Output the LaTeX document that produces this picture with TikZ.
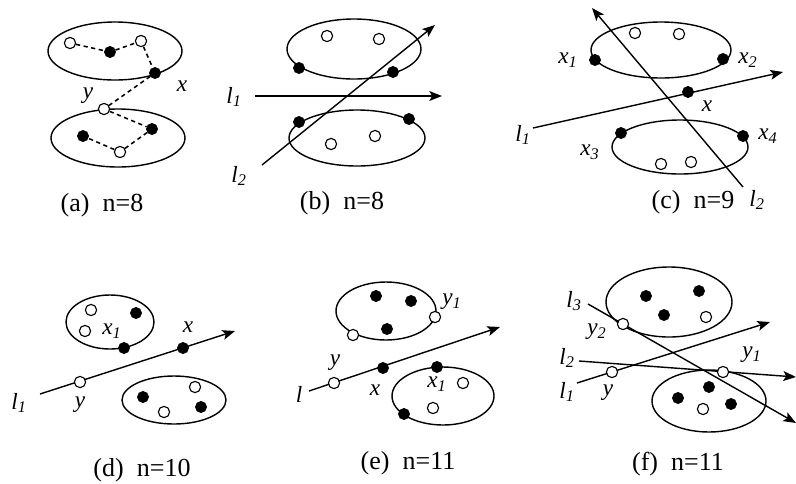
\documentclass[tikz,border=0pt]{standalone}
\usepackage{fontspec}
\setmainfont{Liberation Serif}
\usetikzlibrary{arrows.meta}
\newcommand{\lb}[2]{\textit{#1\textsubscript{#2}}}
\tikzset{
  blk/.style={circle,fill=black,draw=black,inner sep=0pt,minimum size=8pt},
  wht/.style={circle,fill=white,draw=black,line width=0.8pt,inner sep=0pt,minimum size=8pt},
  lbl/.style={font=\fontsize{16.5}{18}\selectfont\itshape,inner sep=0pt},
  captxt/.style={font=\fontsize{18.5}{20}\selectfont,inner sep=0pt},
  arr/.style={line width=1pt,-{Stealth[length=9pt,width=7pt,inset=2pt]}},
  ln/.style={line width=1pt},
  dsh/.style={line width=1.1pt,dash pattern=on 3pt off 2.5pt}
}
\begin{document}
\begin{tikzpicture}[x=0.025cm,y=-0.025cm]
\useasboundingbox (0,0) rectangle (796,483);
% (a)
\draw[ln] (115,51) ellipse (67 and 29);
\draw[ln] (118,138) ellipse (67 and 29);
\node[wht] (a1) at (70,43) {};
\node[blk] (a2) at (110,52) {};
\node[wht] (a3) at (141,41) {};
\node[blk] (ax) at (155,73) {};
\node[wht] (ay) at (104,109) {};
\node[blk] (a4) at (152,129) {};
\node[wht] (a5) at (120,152) {};
\node[blk] (a6) at (83,136) {};
\draw[dsh] (a1) -- (a2) -- (a3) -- (ax) -- (ay) -- (a4) -- (a5) -- (a6);
\node[lbl] (axl) at (182,86) {x};
\node[lbl] (ayl) at (88,96) {y};
\node[captxt] (acap) at (102,205) {(a)~~n=8};
% (b)
\draw[ln] (354,49) ellipse (67 and 30);
\draw[ln] (357,138) ellipse (68 and 28);
\coordinate (bl1s) at (255,96);
\coordinate (bl1e) at (442,96);
\coordinate (bl2s) at (262,165);
\coordinate (bl2e) at (435,25);
\draw[arr] (bl1s) -- (bl1e);
\draw[arr] (bl2s) -- (bl2e);
\node[wht] (b1) at (327,36) {};
\node[wht] (b2) at (379,39) {};
\node[blk] (b3) at (299,68) {};
\node[blk] (b4) at (393,72) {};
\node[blk] (b5) at (299,122) {};
\node[blk] (b6) at (409,119) {};
\node[wht] (b7) at (331,144) {};
\node[wht] (b8) at (375,136) {};
\node[lbl] (bl1) at (234,97) {\lb{l}{1}};
\node[lbl] (bl2) at (239,176) {\lb{l}{2}};
\node[captxt] (bcap) at (342,203) {(b)~~n=8};
% (c)
\draw[ln] (661,50) ellipse (70 and 28);
\draw[ln] (680,147) ellipse (68 and 27);
\coordinate (cl1s) at (533,128);
\coordinate (cl1e) at (783,72);
\coordinate (cl2s) at (743,187);
\coordinate (cl2e) at (592,8);
\draw[arr] (cl1s) -- (cl1e);
\draw[arr] (cl2s) -- (cl2e);
\node[wht] (c1) at (635,33) {};
\node[wht] (c2) at (679,34) {};
\node[blk] (cx1) at (595,60) {};
\node[blk] (cx2) at (723,59) {};
\node[blk] (cx) at (688,92) {};
\node[blk] (cx3) at (621,133) {};
\node[blk] (cx4) at (743,136) {};
\node[wht] (c3) at (661,164) {};
\node[wht] (c4) at (691,162) {};
\node[lbl] (cx1l) at (568,60) {\lb{x}{1}};
\node[lbl] (cx2l) at (748,60) {\lb{x}{2}};
\node[lbl] (cxl) at (707,106) {x};
\node[lbl] (cl1) at (523,135) {\lb{l}{1}};
\node[lbl] (cx3l) at (590,152) {\lb{x}{3}};
\node[lbl] (cx4l) at (768,136) {\lb{x}{4}};
\node[lbl] (cl2) at (757,200) {\lb{l}{2}};
\node[captxt] (ccap) at (693,202) {(c)~~n=9};
% (d)
\draw[ln] (110,322) ellipse (44 and 27);
\draw[ln] (174,400) ellipse (52 and 24);
\coordinate (dl1s) at (40,394);
\coordinate (dl1e) at (235,331);
\draw[arr] (dl1s) -- (dl1e);
\node[wht] (d1) at (91,310) {};
\node[wht] (d2) at (85,331) {};
\node[blk] (d3) at (136,313) {};
\node[blk] (dx1) at (124,348) {};
\node[wht] (dy) at (80,382) {};
\node[blk] (dx) at (183,348) {};
\node[blk] (d4) at (143,397) {};
\node[blk] (d5) at (201,407) {};
\node[wht] (d6) at (195,387) {};
\node[wht] (d7) at (164,412) {};
\node[lbl] (dx1l) at (112,331) {\lb{x}{1}};
\node[lbl] (dxl) at (188,327) {x};
\node[lbl] (dl1) at (19,403) {\lb{l}{1}};
\node[lbl] (dyl) at (80,405) {y};
\node[captxt] (dcap) at (142,470) {(d)~~n=10};
% (e)
\draw[ln] (386,311) ellipse (50 and 29);
\draw[ln] (443,396) ellipse (51 and 29);
\coordinate (els) at (309,391);
\coordinate (ele) at (500,327);
\draw[arr] (els) -- (ele);
\node[blk] (e1) at (376,296) {};
\node[blk] (e2) at (411,301) {};
\node[blk] (e3) at (387,329) {};
\node[wht] (e4) at (353,335) {};
\node[wht] (ey1) at (435,317) {};
\node[wht] (ey) at (334,383) {};
\node[blk] (ex) at (383,368) {};
\node[blk] (ex1) at (437,367) {};
\node[wht] (e5) at (463,383) {};
\node[wht] (e6) at (433,408) {};
\node[blk] (e7) at (404,414) {};
\node[lbl] (ey1l) at (452,302) {\lb{y}{1}};
\node[lbl] (eyl) at (335,363) {y};
\node[lbl] (el) at (299,394) {l};
\node[lbl] (exl) at (375,390) {x};
\node[lbl] (ex1l) at (437,384) {\lb{x}{1}};
\node[captxt] (ecap) at (408,463) {(e)~~n=11};
% (f)
\draw[ln] (669,302) ellipse (63 and 35);
\draw[ln] (709,401) ellipse (57 and 31);
\coordinate (fl3s) at (588,304);
\coordinate (fl3e) at (796,423);
\coordinate (fl1s) at (577,383);
\coordinate (fl1e) at (770,322);
\coordinate (fl2s) at (579,361);
\coordinate (fl2e) at (796,377);
\draw[arr] (fl3s) -- (fl3e);
\draw[arr] (fl1s) -- (fl1e);
\draw[arr] (fl2s) -- (fl2e);
\node[blk] (f1) at (646,296) {};
\node[blk] (f2) at (699,291) {};
\node[blk] (f3) at (664,315) {};
\node[wht] (f4) at (706,317) {};
\node[wht] (fy2) at (623,324) {};
\node[wht] (fy) at (612,372) {};
\node[wht] (fy1) at (723,372) {};
\node[blk] (f5) at (678,398) {};
\node[blk] (f6) at (709,387) {};
\node[blk] (f7) at (731,404) {};
\node[wht] (f8) at (703,409) {};
\node[lbl] (fl3) at (574,301) {\lb{l}{3}};
\node[lbl] (fy2l) at (597,332) {\lb{y}{2}};
\node[lbl] (fl2) at (567,358) {\lb{l}{2}};
\node[lbl] (fl1) at (567,392) {\lb{l}{1}};
\node[lbl] (fyl) at (608,393) {y};
\node[lbl] (fy1l) at (752,355) {\lb{y}{1}};
\node[captxt] (fcap) at (678,464) {(f)~~n=11};
\end{tikzpicture}
\end{document}
